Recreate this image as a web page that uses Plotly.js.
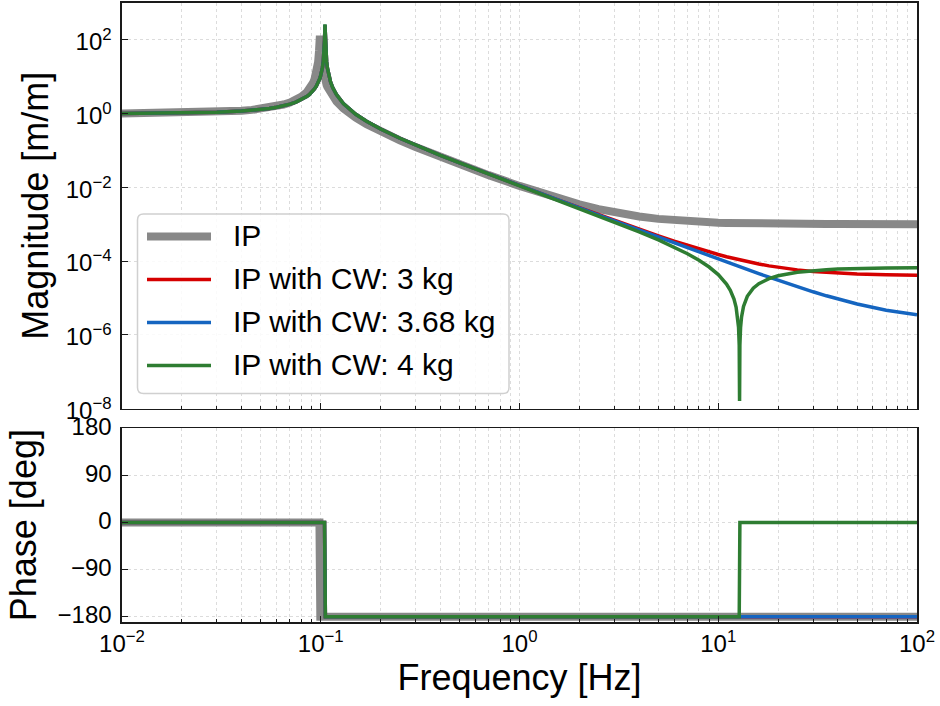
<!DOCTYPE html>
<html>
<head>
<meta charset="utf-8">
<script src="https://cdn.plot.ly/plotly-3.0.1.min.js"></script>
<style>html,body{margin:0;padding:0;background:#fff;}#chart{width:940px;height:706px;}</style>
</head>
<body>
<div id="chart"></div>
<script>
// Frequency grid [Hz] (shared by all magnitude traces)
const freq = [0.01, 0.02, 0.03, 0.04, 0.045, 0.05, 0.055, 0.06, 0.065, 0.07,
  0.075, 0.08, 0.085, 0.0875, 0.09, 0.0915, 0.093, 0.095, 0.096, 0.097,
  0.098, 0.0985, 0.099, 0.0995, 0.1, 0.101, 0.102, 0.103, 0.104, 0.1045,
  0.105, 0.1055, 0.106, 0.107, 0.108, 0.11, 0.112, 0.115, 0.12, 0.13,
  0.14, 0.15, 0.17, 0.2, 0.25, 0.3, 0.4, 0.5, 0.7, 1,
  1.5, 2, 2.5, 3, 3.5, 4, 5, 6, 7, 8,
  9, 10, 11, 11.5, 12, 12.3, 12.5, 12.65, 12.75, 12.8,
  12.85, 12.95, 13.1, 13.4, 14, 15, 16, 18, 20, 25,
  30, 35, 40, 50, 70, 100];

// Magnitude [m/m]
const magIP = [1.010, 1.0425, 1.101, 1.195, 1.2604, 1.342, 1.4464, 1.581, 1.7577, 2.000,
  2.347, 2.882, 3.805, 4.5698, 5.762, 6.860, 8.508, 12.63, 16.75, 25.0,
  49.75, 79, 130, 78.6, 46.1, 24.2, 16.25, 12.13, 9.66, 8.76,
  8.01, 7.37, 6.83, 5.95, 5.26, 4.27, 3.573, 2.862, 2.131, 1.381,
  1.0022, 0.7736, 0.5147, 0.3259, 0.18717, 0.1233, 0.066319, 0.04184, 0.02143, 0.010908,
  0.005379, 0.003459, 0.0025722, 0.002091, 0.0018015, 0.001614, 0.0013926, 0.0012726, 0.0012002, 0.0011533,
  0.0011211, 0.0010981, 0.0010811, 0.0010742, 0.0010681, 0.0010649, 0.0010628, 0.0010613, 0.0010604, 0.0010599,
  0.0010594, 0.0010585, 0.0010572, 0.0010546, 0.0010501, 0.0010436, 0.0010383, 0.0010303, 0.0010245, 0.0010157,
  0.0010109, 0.001008, 0.0010061, 0.0010039, 0.0010020, 0.0010010];

const mag3kg = [1.009, 1.038, 1.089, 1.170, 1.225, 1.293, 1.3781, 1.485, 1.6213, 1.800,
  2.0417, 2.384, 2.901, 3.2727, 3.769, 4.1561, 4.640, 5.513, 6.095, 6.822,
  7.759, 8.335, 9.007, 9.802, 10.756, 13.38, 17.75, 26.50, 51.8, 97.9,
  250, 97.4, 51.4, 26.0, 17.25, 10.256, 7.258, 5.011, 3.267, 1.877,
  1.2857, 0.9608, 0.6168, 0.3805, 0.21423, 0.1397, 0.07405, 0.04618, 0.02306, 0.011188,
  0.004964, 0.002804, 0.0018072, 0.0012665, 0.00094085, 0.00072956, 0.00048121, 0.00034636, 0.00026506, 0.0002123,
  0.00017614, 0.00015027, 0.00013113, 0.00012338, 0.00011657, 0.00011288, 0.00011057, 0.00010891, 0.00010783, 0.0001073,
  0.00010678, 0.00010575, 0.00010425, 0.00010141, 0.000096255, 0.000089004, 0.00008307, 0.00007403, 0.000067564, 0.000057641,
  0.00005225, 0.000049, 0.000046891, 0.00004441, 0.00004225, 0.000041103];

const mag368kg = [1.009, 1.038, 1.089, 1.170, 1.225, 1.293, 1.3781, 1.485, 1.6213, 1.800,
  2.0417, 2.384, 2.901, 3.2727, 3.769, 4.1561, 4.640, 5.513, 6.095, 6.822,
  7.759, 8.335, 9.007, 9.802, 10.756, 13.38, 17.75, 26.50, 51.8, 97.9,
  255, 97.4, 51.4, 26.0, 17.25, 10.256, 7.258, 5.011, 3.267, 1.877,
  1.2857, 0.9608, 0.6168, 0.3805, 0.21418, 0.1396, 0.074006, 0.04614, 0.02302, 0.01115,
  0.004927, 0.002766, 0.0017695, 0.0012289, 0.00090322, 0.00069194, 0.0004436, 0.00030874, 0.00022745, 0.0001747,
  0.00013853, 0.00011266, 0.000093525, 0.000085772, 0.000078968, 0.000075279, 0.000072965, 0.000071302, 0.000070225, 0.000069696,
  0.000069173, 0.000068146, 0.000066648, 0.000063804, 0.000058653, 0.000051402, 0.000045468, 0.000036429, 0.000029963, 0.00002004,
  0.00001465, 0.0000114, 0.0000092907, 0.0000068101, 0.00000465, 0.0000035025];

const mag4kg = [1.009, 1.038, 1.089, 1.170, 1.225, 1.293, 1.3781, 1.485, 1.6213, 1.800,
  2.0417, 2.384, 2.901, 3.2727, 3.769, 4.1561, 4.640, 5.513, 6.095, 6.822,
  7.759, 8.335, 9.007, 9.802, 10.756, 13.38, 17.75, 26.50, 51.8, 97.9,
  265, 97.4, 51.4, 26.0, 17.25, 10.256, 7.258, 5.011, 3.267, 1.877,
  1.2857, 0.9608, 0.6168, 0.3805, 0.2141, 0.1395, 0.07393, 0.04606, 0.02295, 0.01108,
  0.004857, 0.002696, 0.0016997, 0.0011591, 0.00083345, 0.0006222, 0.00037386, 0.00023902, 0.00015773, 0.00010498,
  0.00006882, 0.00004295, 0.000023818, 0.000016066, 0.0000092632, 0.0000055738, 0.0000032604, 0.0000015968, 5.198e-7, 1.6e-8,
  5.312e-7, 1.5588e-6, 3.056e-6, 5.900e-6, 0.000011051, 0.000018301, 0.000024235, 0.000033273, 0.000039739, 0.000049661,
  0.000055051, 0.0000583, 0.00006041, 0.000062891, 0.00006505, 0.000066198];

// Phase [deg]
const phaseFreqIP = [0.01, 0.0985, 0.099, 0.0995, 100];
const phaseIP = [0, 0, -90, -180, -180];
const phaseFreqCW = [0.01, 0.1045, 0.105, 0.1055, 100];
const phase3kg = [0, 0, -90, -180, -180];
const phase368kg = [0, 0, -90, -180, -180];
const phaseFreq4kg = [0.01, 0.1045, 0.105, 0.1055, 12.75, 12.8, 12.85, 100];
const phase4kg = [0, 0, -90, -180, -180, -90, 0, 0];

const names = ['IP', 'IP with CW: 3 kg', 'IP with CW: 3.68 kg', 'IP with CW: 4 kg'];
const colors = ['#888888', '#d50000', '#1565c0', '#2e7d32'];
const widths = [8, 3.5, 3.5, 3.5];

// Axis ticks
const xTickVals = [0.01, 0.1, 1, 10, 100];
const xTickText = ['10<sup>−2</sup>', '10<sup>−1</sup>', '10<sup>0</sup>', '10<sup>1</sup>', '10<sup>2</sup>'];
const xMinorVals = [];
[0.01, 0.1, 1, 10].forEach(d => { for (let k = 2; k <= 9; k++) xMinorVals.push(+(d * k).toPrecision(3)); });
const magTickVals = [1e-8, 1e-6, 1e-4, 1e-2, 1, 1e2];
const magTickText = ['10<sup>−8</sup>', '10<sup>−6</sup>', '10<sup>−4</sup>', '10<sup>−2</sup>', '10<sup>0</sup>', '10<sup>2</sup>'];
const phTickVals = [-180, -90, 0, 90, 180];
const phTickText = ['−180', '−90', '0', '90', '180'];

const FONT = 'Liberation Sans, Arial, Helvetica, sans-serif';
const magX = [freq, freq, freq, freq];
const magY = [magIP, mag3kg, mag368kg, mag4kg];
const phX = [phaseFreqIP, phaseFreqCW, phaseFreqCW, phaseFreq4kg];
const phY = [phaseIP, phase3kg, phase368kg, phase4kg];

const traces = [];
for (let i = 0; i < 4; i++) {
  traces.push({x: magX[i], y: magY[i], name: names[i], type: 'scatter', mode: 'lines',
    line: {color: colors[i], width: widths[i]}, xaxis: 'x', yaxis: 'y', showlegend: false, hoverinfo: 'skip'});
}
for (let i = 0; i < 4; i++) {
  traces.push({x: phX[i], y: phY[i], name: names[i], type: 'scatter', mode: 'lines',
    line: {color: colors[i], width: widths[i]}, xaxis: 'x2', yaxis: 'y2', showlegend: false, hoverinfo: 'skip'});
}

const gridCol = '#dcdcdc';
const common = {showline: true, mirror: true, linecolor: '#1a1a1a', linewidth: 1.6, ticks: 'inside',
  tickcolor: '#1a1a1a', tickwidth: 1, showgrid: true, gridcolor: gridCol, griddash: 'dot', gridwidth: 1,
  zeroline: false, tickfont: {family: FONT, size: 24, color: '#000'}};

const xCommon = Object.assign({}, common, {type: 'log', range: [-2, 2], tickmode: 'array', tickvals: xTickVals,
  ticktext: xTickText, ticklen: 6,
  minor: {tickmode: 'array', tickvals: xMinorVals, ticks: 'inside', ticklen: 3, tickcolor: '#1a1a1a', tickwidth: 1,
    showgrid: true, gridcolor: gridCol, griddash: 'dot', gridwidth: 1}});

// Manual legend (paper coords computed from pixel layout)
const L = 122, W = 795, B = 622, H = 619;
const px = v => (v - L) / W, py = v => (B - v) / H;
const bx0 = px(137.5), bx1 = px(509), by0 = py(393.5), by1 = py(214);
const rx = 6 / W, ry = 6 / H;
const boxPath = `M ${bx0 + rx},${by1} L ${bx1 - rx},${by1} Q ${bx1},${by1} ${bx1},${by1 - ry} L ${bx1},${by0 + ry} Q ${bx1},${by0} ${bx1 - rx},${by0} L ${bx0 + rx},${by0} Q ${bx0},${by0} ${bx0},${by0 + ry} L ${bx0},${by1 - ry} Q ${bx0},${by1} ${bx0 + rx},${by1} Z`;
const rowsY = [236.5, 279.5, 322.5, 365.5];
const shapes = [{type: 'path', xref: 'paper', yref: 'paper', path: boxPath, fillcolor: 'rgba(255,255,255,0.85)',
  line: {color: '#d0d0d0', width: 1.5}, layer: 'above'}];
const annotations = [];
for (let i = 0; i < 4; i++) {
  shapes.push({type: 'line', xref: 'paper', yref: 'paper', x0: px(147), x1: px(211), y0: py(rowsY[i]), y1: py(rowsY[i]),
    line: {color: colors[i], width: widths[i]}, layer: 'above'});
  annotations.push({xref: 'paper', yref: 'paper', x: px(231), y: py(rowsY[i] - 1), xanchor: 'left', yanchor: 'middle',
    text: names[i], showarrow: false, font: {family: FONT, size: 30, color: '#000'}});
}

const layout = {
  width: 940, height: 706,
  margin: {l: L, r: 940 - L - W, t: 3, b: 706 - B},
  paper_bgcolor: '#fff', plot_bgcolor: '#fff',
  showlegend: false,
  font: {family: FONT, color: '#000'},
  xaxis: Object.assign({}, xCommon, {anchor: 'y', matches: 'x2', showticklabels: false}),
  yaxis: Object.assign({}, common, {type: 'log', domain: [py(408.5), 1], range: [-8, 3], tickmode: 'array',
    tickvals: magTickVals, ticktext: magTickText, ticklen: 6, anchor: 'x', ticklabelstandoff: 4, ticklabelshift: 2,
    title: {text: 'Magnitude [m/m]', font: {family: FONT, size: 36, color: '#000'}, standoff: 6}}),
  xaxis2: Object.assign({}, xCommon, {anchor: 'y2',
    title: {text: 'Frequency [Hz]', font: {family: FONT, size: 36, color: '#000'}, standoff: 8}}),
  yaxis2: Object.assign({}, common, {domain: [0, py(428.3)], range: [-190, 180], tickmode: 'array',
    tickvals: phTickVals, ticktext: phTickText, ticklen: 6, anchor: 'x2', ticklabelstandoff: 4, ticklabelshift: -2,
    title: {text: 'Phase [deg]', font: {family: FONT, size: 36, color: '#000'}, standoff: 10}}),
  shapes: shapes,
  annotations: annotations
};

Plotly.newPlot('chart', traces, layout, {staticPlot: true, displayModeBar: false});
</script>
</body>
</html>
